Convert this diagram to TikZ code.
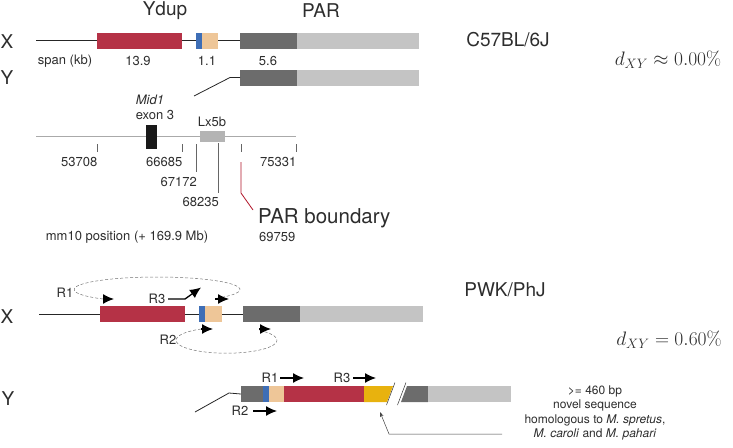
\documentclass[tikz,border=0pt]{standalone}
\usepackage{fix-cm}
\usepackage[no-math]{fontspec}
\setmainfont{TeX Gyre Heros}
\usetikzlibrary{arrows.meta}
\definecolor{cred}{RGB}{181,50,70}
\definecolor{cblue}{RGB}{62,110,182}
\definecolor{ctan}{RGB}{238,198,152}
\definecolor{cdark}{RGB}{108,108,108}
\definecolor{clight}{RGB}{196,196,196}
\definecolor{cyel}{RGB}{232,178,14}
\definecolor{caxis}{RGB}{170,170,170}
\definecolor{clx}{RGB}{180,180,180}
\definecolor{ctext}{RGB}{45,45,45}
\definecolor{cpar}{RGB}{176,20,40}
\newcommand{\fs}[1]{\fontsize{#1}{#1}\selectfont}
\tikzset{
  box/.style={inner sep=0pt, outer sep=0pt, anchor=north west, draw=none},
  txt/.style={inner sep=0pt, text=ctext, font=\fs{13}},
  big/.style={inner sep=0pt, text=ctext, font=\fs{19}},
  seq/.style={line width=0.8pt, black!85},
  primer/.style={line width=1.3pt, black, -{Latex[length=11pt,width=10pt]}},
  loop/.style={dashed, dash pattern=on 3pt off 2pt, line width=0.5pt, black!55},
  tick/.style={line width=0.6pt, black!60},
}
\begin{document}
\begin{tikzpicture}[x=1pt,y=-1pt]
\path[use as bounding box] (0,0) rectangle (733,447);
% ---------- top: C57BL/6J ----------
\node[big] (ydup) at (165,11) {Ydup};
\node[big] (par) at (321,11) {PAR};
\node[big] (xlab1) at (7,42) {X};
\node[big] (ylab1) at (7,78) {Y};
\coordinate (xs1) at (36,40.5);
\node[box, fill=cred, minimum width=85pt, minimum height=16pt] (xr1) at (97,32.5) {};
\node[box, fill=cblue, minimum width=6pt, minimum height=16pt] (xb1) at (196,32.5) {};
\node[box, fill=ctan, minimum width=16pt, minimum height=16pt] (xt1) at (202,32.5) {};
\node[box, fill=cdark, minimum width=57pt, minimum height=16pt] (xd1) at (240,32.5) {};
\node[box, fill=clight, minimum width=122pt, minimum height=16pt] (xl1) at (297,32.5) {};
\draw[seq] (xs1) -- (xr1.west);
\draw[seq] (xr1.east) -- (xb1.west);
\draw[seq] (xt1.east) -- (xd1.west);
\node[txt] (span) at (65,61) {span (kb)};
\node[txt] (n139) at (138,61) {13.9};
\node[txt] (n11) at (207,61) {1.1};
\node[txt] (n56) at (268,61) {5.6};
\node[box, fill=cdark, minimum width=57pt, minimum height=16pt] (yd1) at (240,69.5) {};
\node[box, fill=clight, minimum width=122pt, minimum height=16pt] (yl1) at (297,69.5) {};
\coordinate (ybend1) at (230,77.5);
\coordinate (yend1) at (194,96);
\draw[seq] (yd1.west) -- (ybend1) -- (yend1);
\node[big] (strain1) at (508,40) {C57BL/6J};
\node[inner sep=0pt, text=ctext, font=\fs{19.5}] (d1) at (668,60) {$d_{XY}\approx 0.00\%$};
% ---------- middle: coordinates ----------
\node[txt, font=\fs{13}\itshape] (mid1) at (150,100) {Mid1};
\node[txt] (exon) at (155,115) {exon 3};
\node[txt] (lx) at (212,122) {Lx5b};
\coordinate (axl) at (36,136.7);
\coordinate (axr) at (296,136.7);
\draw[line width=1pt, caxis] (axl) -- (axr);
\node[box, fill=black!90, minimum width=11pt, minimum height=24pt] (exbox) at (146,124.5) {};
\node[box, fill=clx, minimum width=25pt, minimum height=11pt] (lxbox) at (200,131) {};
\coordinate (t1a) at (97,144); \coordinate (t1b) at (97,152);
\coordinate (t2a) at (182,144); \coordinate (t2b) at (182,152);
\coordinate (t3a) at (196,144); \coordinate (t3b) at (196,172);
\coordinate (t4a) at (218,143); \coordinate (t4b) at (218,193);
\coordinate (t5a) at (241,144); \coordinate (t5b) at (241,152);
\coordinate (t6a) at (296,144); \coordinate (t6b) at (296,152);
\draw[tick] (t1a) -- (t1b);
\draw[tick] (t2a) -- (t2b);
\draw[tick] (t3a) -- (t3b);
\draw[tick] (t4a) -- (t4b);
\draw[tick] (t5a) -- (t5b);
\draw[tick] (t6a) -- (t6b);
\node[txt, anchor=east] (p1) at (97.5,162) {53708};
\node[txt, anchor=east] (p2) at (182.5,162) {66685};
\node[txt, anchor=east] (p3) at (197,182) {67172};
\node[txt, anchor=east] (p4) at (219,202) {68235};
\node[txt, anchor=east] (p6) at (296.5,162) {75331};
\coordinate (pb1) at (241,162);
\coordinate (pb2) at (241,193);
\coordinate (pb3) at (253,210);
\draw[line width=0.8pt, cpar] (pb1) -- (pb2) -- (pb3);
\node[inner sep=0pt, text=ctext, font=\fs{20.5}, anchor=west] (parb) at (258,218) {PAR boundary};
\node[txt, anchor=west] (p5) at (259,237) {69759};
\node[txt] (mm10) at (127,237) {mm10 position (+ 169.9 Mb)};
% ---------- bottom: PWK/PhJ X ----------
\node[big] (xlab2) at (7,317) {X};
\coordinate (xs2) at (39,314);
\node[box, fill=cred, minimum width=85pt, minimum height=16pt] (xr2) at (100,306) {};
\node[box, fill=cblue, minimum width=6pt, minimum height=16pt] (xb2) at (199,306) {};
\node[box, fill=ctan, minimum width=17pt, minimum height=16pt] (xt2) at (205,306) {};
\node[box, fill=cdark, minimum width=57pt, minimum height=16pt] (xd2) at (243,306) {};
\node[box, fill=clight, minimum width=123pt, minimum height=16pt] (xl2) at (300,306) {};
\draw[seq] (xs2) -- (xr2.west);
\draw[seq] (xr2.east) -- (xb2.west);
\draw[seq] (xt2.east) -- (xd2.west);
% R1 loop
\node[txt] (r1a) at (65,293) {R1};
\coordinate (r1s) at (103,299);
\coordinate (r1e) at (114,299);
\coordinate (r1s2) at (215,299);
\coordinate (r1e2) at (229,299);
\draw[loop] (r1s) arc[start angle=130.6, end angle=403.7, x radius=83, y radius=12.5];
\draw[primer] (r1s) -- (r1e);
\draw[primer] (r1s2) -- (r1e2);
% R3
\node[txt] (r3a) at (157,299) {R3};
\coordinate (r3s) at (168,299);
\coordinate (r3m) at (185,299);
\coordinate (r3e) at (201,287.5);
\draw[primer] (r3s) -- (r3m) -- (r3e);
% R2 loop
\node[txt] (r2a) at (168,340) {R2};
\coordinate (r2s) at (201,329);
\coordinate (r2e) at (213,329);
\coordinate (r2s2) at (259,329);
\coordinate (r2e2) at (271,329);
\draw[loop] (r2s) arc[start angle=239.7, end angle=-49.9, x radius=50.5, y radius=13];
\draw[primer] (r2s) -- (r2e);
\draw[primer] (r2s2) -- (r2e2);
\node[big] (strain2) at (505,290) {PWK/PhJ};
\node[inner sep=0pt, text=ctext, font=\fs{19.5}] (d2) at (669,340) {$d_{XY}=0.60\%$};
% ---------- bottom: PWK/PhJ Y ----------
\node[big] (ylab2) at (8,399) {Y};
\coordinate (ys2) at (195,412);
\coordinate (ybend2) at (229,393);
\node[box, fill=cdark, minimum width=22pt, minimum height=16pt] (yd2) at (241,386) {};
\node[box, fill=cblue, minimum width=6pt, minimum height=16pt] (yb2) at (263,386) {};
\node[box, fill=ctan, minimum width=15pt, minimum height=16pt] (yt2) at (269,386) {};
\node[box, fill=cred, minimum width=80pt, minimum height=16pt] (yr2) at (284,386) {};
\draw[seq] (ys2) -- (ybend2) -- (yd2.west);
\fill[cyel] (364,386) -- (393,386) -- (387,402) -- (364,402) -- cycle;
\fill[cdark] (401,402) -- (407,386) -- (428,386) -- (428,402) -- cycle;
\node[box, fill=clight, minimum width=83pt, minimum height=16pt] (yl2) at (428,386) {};
\draw[line width=0.5pt, black!80] (386.5,405) -- (395,382.5);
\draw[line width=0.5pt, black!80] (397.5,405) -- (406,382.5);
\node[txt] (r1b) at (270,378) {R1};
\coordinate (r1bs) at (280,378); \coordinate (r1be) at (304,378);
\draw[primer] (r1bs) -- (r1be);
\node[txt] (r3b) at (342,378) {R3};
\coordinate (r3bs) at (353,378); \coordinate (r3be) at (376,378);
\draw[primer] (r3bs) -- (r3be);
\node[txt] (r2b) at (240,411) {R2};
\coordinate (r2bs) at (253,411); \coordinate (r2be) at (277,411);
\draw[primer] (r2bs) -- (r2be);
\node[inner sep=0pt, text=ctext, font=\fs{12}, align=center] (note) at (595,413)
  {{>}= 460 bp\\[2.3pt] novel sequence\\[2.3pt] homologous to \textit{M. spretus},\\[2.3pt] \textit{M. caroli} and \textit{M. pahari}};
\coordinate (ptr1) at (502,434);
\coordinate (ptr2) at (389,434);
\coordinate (ptr3) at (380,412);
\draw[line width=0.5pt, black!75, -{Stealth[length=5pt,width=3.5pt]}] (ptr1) -- (ptr2) -- (ptr3);
\end{tikzpicture}
\end{document}
